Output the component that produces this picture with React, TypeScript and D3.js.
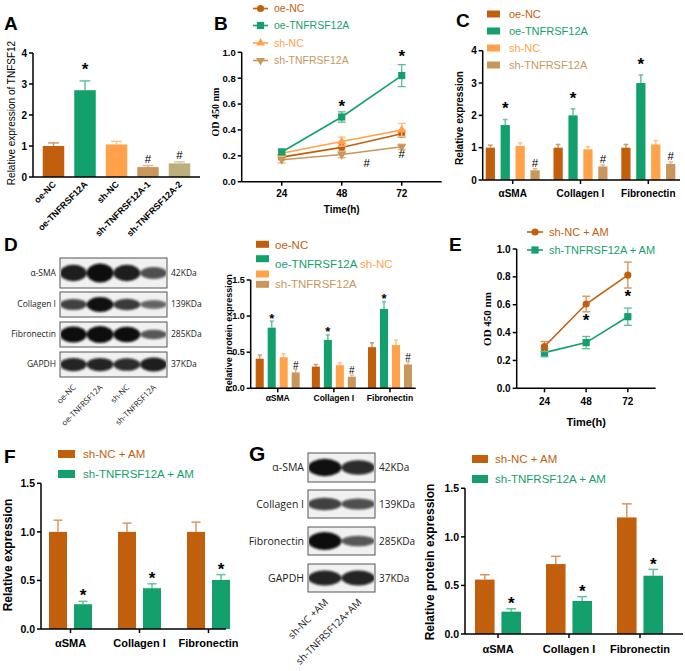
import React from 'react';
import * as d3 from 'd3';

const FONT = "'Liberation Sans', Arial, sans-serif";
const SERIF = "'Liberation Serif', 'Times New Roman', serif";
const BLOT = "'Open Sans', 'Noto Sans', sans-serif";

const BROWN = '#C25F0D';
const GREEN = '#14A06C';
const ORANGE = '#FFA249';
const TAN = '#C9975B';
const KHAKI = '#BDAF7D';

// ---------- Panel A ----------
const aCategories = ['oe-NC', 'oe-TNFRSF12A', 'sh-NC', 'sh-TNFRSF12A-1', 'sh-TNFRSF12A-2'];
const aValues = [1.0, 2.8, 1.05, 0.32, 0.44];
const aErrors = [0.1, 0.3, 0.1, 0.05, 0.05];
const aMarks = ['', '*', '', '#', '#'];
const aColors = [BROWN, GREEN, ORANGE, TAN, KHAKI];
const aTicks = [0, 1, 2, 3, 4];

// ---------- Panel B ----------
const timePoints = [24, 48, 72];
const bNames = ['oe-NC', 'oe-TNFRSF12A', 'sh-NC', 'sh-TNFRSF12A'];
const bOeNC = [0.19, 0.265, 0.37];
const bOeNCErr = [0.02, 0.03, 0.025];
const bOeTNF = [0.23, 0.5, 0.82];
const bOeTNFErr = [0.02, 0.04, 0.085];
const bShNC = [0.22, 0.31, 0.4];
const bShNCErr = [0.02, 0.035, 0.05];
const bShTNF = [0.17, 0.21, 0.27];
const bShTNFErr = [0.025, 0.025, 0.02];
const bMarkTimes = [48, 72, 72, 58];
const bMarkValues = [0.54, 0.925, 0.18, 0.11];
const bMarkSymbols = ['*', '*', '#', '#'];
const odTicks = [0, 0.2, 0.4, 0.6, 0.8, 1.0];

// ---------- Panel C ----------
const proteins = ['αSMA', 'Collagen I', 'Fibronectin'];
const cOeNC = [1.0, 1.0, 1.0];
const cOeNCErr = [0.08, 0.1, 0.1];
const cOeTNF = [1.7, 2.0, 3.0];
const cOeTNFErr = [0.17, 0.2, 0.25];
const cShNC = [1.05, 0.95, 1.1];
const cShNCErr = [0.1, 0.08, 0.12];
const cShTNF = [0.3, 0.42, 0.5];
const cShTNFErr = [0.05, 0.05, 0.06];
const cTicks = [0, 1, 2, 3, 4];

// ---------- Panel D ----------
const dOeNC = [0.41, 0.3, 0.57];
const dOeNCErr = [0.05, 0.03, 0.06];
const dOeTNF = [0.84, 0.67, 1.1];
const dOeTNFErr = [0.09, 0.07, 0.1];
const dShNC = [0.43, 0.32, 0.6];
const dShNCErr = [0.05, 0.035, 0.07];
const dShTNF = [0.22, 0.16, 0.33];
const dShTNFErr = [0.04, 0.02, 0.04];
const dTicks = [0, 0.5, 1.0, 1.5];
const dLanes = ['oe-NC', 'oe-TNFRSF12A', 'sh-NC', 'sh-TNFRSF12A'];
const blotProteins = ['α-SMA', 'Collagen I', 'Fibronectin', 'GAPDH'];
const blotKDa = ['42KDa', '139KDa', '285KDa', '37KDa'];
const dBandSMA = [0.8, 1.0, 0.8, 0.45];
const dBandCol = [0.55, 0.9, 0.6, 0.3];
const dBandFib = [1.0, 1.1, 0.95, 0.4];
const dBandGAPDH = [0.75, 0.75, 0.7, 0.8];

// ---------- Panel E ----------
const eNames = ['sh-NC + AM', 'sh-TNFRSF12A + AM'];
const eShNC = [0.3, 0.605, 0.813];
const eShNCErr = [0.036, 0.056, 0.093];
const eShTNF = [0.256, 0.328, 0.514];
const eShTNFErr = [0.03, 0.044, 0.062];
const eMarkTimes = [48, 72];
const eMarkValues = [0.45, 0.62];

// ---------- Panel F ----------
const fShNC = [1.0, 1.0, 1.0];
const fShNCErr = [0.12, 0.09, 0.1];
const fShTNF = [0.255, 0.42, 0.505];
const fShTNFErr = [0.03, 0.045, 0.055];
const fgTicks = [0, 0.5, 1.0, 1.5];

// ---------- Panel G ----------
const gShNC = [0.56, 0.72, 1.2];
const gShNCErr = [0.05, 0.08, 0.14];
const gShTNF = [0.23, 0.34, 0.6];
const gShTNFErr = [0.03, 0.045, 0.065];
const gLanes = ['sh-NC +AM', 'sh-TNFRSF12A+AM'];
const gBandSMA = [0.9, 0.7];
const gBandCol = [0.55, 0.45];
const gBandFib = [1.0, 0.4];
const gBandGAPDH = [0.75, 0.75];

const light = (c: string, t = 0.4) => d3.interpolateRgb(c, '#ffffff')(t);
const fmt1 = d3.format('.1f');
const fmtD = d3.format('d');

function PanelLabel({ x, y, t, fs = 19 }: any) {
  return (
    <text x={x} y={y} fontSize={fs} fontWeight="bold" fontFamily={FONT}>
      {t}
    </text>
  );
}

function YAxis({ x, y, ticks, fmt, fs = 10, bold = true }: any) {
  const dom = y.domain();
  return (
    <g>
      <line x1={x} x2={x} y1={y(dom[1])} y2={y(dom[0])} stroke="#000" strokeWidth={1.5} />
      {ticks.map((t: number) => (
        <g key={t}>
          <line x1={x - 4} x2={x} y1={y(t)} y2={y(t)} stroke="#000" strokeWidth={1.5} />
          <text
            x={x - 6}
            y={y(t)}
            dy="0.35em"
            textAnchor="end"
            fontSize={fs}
            fontWeight={bold ? 'bold' : 'normal'}
            fontFamily={FONT}
          >
            {fmt(t)}
          </text>
        </g>
      ))}
    </g>
  );
}

function YLabel({ x, y, text, fs, bold = true, family = FONT }: any) {
  return (
    <text
      transform={`translate(${x},${y}) rotate(-90)`}
      textAnchor="middle"
      fontSize={fs}
      fontWeight={bold ? 'bold' : 'normal'}
      fontFamily={family}
    >
      {text}
    </text>
  );
}

function Bar({ x, w, y, v, e, color, mark, starGap, hashGap, starFs = 17, hashFs = 11.5 }: any) {
  const cx = x + w / 2;
  const top = y(v + e);
  const cap = w * 0.5;
  const ec = light(color, 0.35);
  let markEl = null;
  if (mark === '*') {
    markEl = (
      <text x={cx} y={top - starGap + 0.42 * starFs} textAnchor="middle" fontSize={starFs} fontWeight="bold" fontFamily={FONT}>
        *
      </text>
    );
  } else if (mark === '#') {
    markEl = (
      <text x={cx} y={top - hashGap} textAnchor="middle" fontSize={hashFs} fontFamily={FONT}>
        #
      </text>
    );
  }
  return (
    <g>
      <line x1={cx} x2={cx} y1={y(v)} y2={top} stroke={ec} strokeWidth={1.5} />
      <line x1={cx - cap / 2} x2={cx + cap / 2} y1={top} y2={top} stroke={ec} strokeWidth={1.5} />
      <rect x={x} y={y(v)} width={w} height={y(0) - y(v)} fill={color} />
      {markEl}
    </g>
  );
}

function GroupedBars({ gx, inner, y, series, starGap, hashGap, starFs, hashFs }: any) {
  return (
    <g>
      {series.map((s: any) =>
        s.values.map((v: number, i: number) => (
          <Bar
            key={s.name + i}
            x={(gx(proteins[i]) as number) + (inner(s.name) as number)}
            w={inner.bandwidth()}
            y={y}
            v={v}
            e={s.errs[i]}
            color={s.color}
            mark={s.marks ? s.marks[i] : ''}
            starGap={starGap}
            hashGap={hashGap}
            starFs={starFs}
            hashFs={hashFs}
          />
        ))
      )}
    </g>
  );
}

function XAxisCats({ x0, x1, y0, gx, fs, labelY }: any) {
  return (
    <g>
      <line x1={x0} x2={x1} y1={y0} y2={y0} stroke="#000" strokeWidth={1.5} />
      {proteins.map((p) => (
        <g key={p}>
          <line x1={gx(p)} x2={gx(p)} y1={y0} y2={y0 + 4} stroke="#000" strokeWidth={1.5} />
          <text x={gx(p)} y={labelY} textAnchor="middle" fontSize={fs} fontWeight="bold" fontFamily={FONT}>
            {p}
          </text>
        </g>
      ))}
    </g>
  );
}

function RectLegend({ x, w, h, rows, textX, fs }: any) {
  return (
    <g>
      {rows.map((r: any, i: number) => (
        <g key={i}>
          <rect x={x} y={r.cy - h / 2} width={w} height={h} fill={r.color} />
          {r.text ? (
            <text x={textX} y={r.cy} dy="0.36em" fontSize={fs} fontFamily={FONT} fill={r.color}>
              {r.text}
            </text>
          ) : null}
        </g>
      ))}
    </g>
  );
}

const symbolPath = (type: any, size: number) => d3.symbol().type(type).size(size)() as string;

function Marker({ x, y, kind, color }: any) {
  if (kind === 'circle') return <circle cx={x} cy={y} r={3.6} fill={color} />;
  if (kind === 'square') return <rect x={x - 3.6} y={y - 3.6} width={7.2} height={7.2} fill={color} />;
  if (kind === 'up') return <path d={symbolPath(d3.symbolTriangle, 34)} transform={`translate(${x},${y})`} fill={color} />;
  return <path d={symbolPath(d3.symbolTriangle, 34)} transform={`translate(${x},${y}) rotate(180)`} fill={color} />;
}

function LineSeries({ x, y, vals, errs, color, kind }: any) {
  const line = d3
    .line<number>()
    .x((_, i) => x(timePoints[i]))
    .y((d) => y(d));
  const ec = light(color, 0.3);
  return (
    <g>
      {vals.map((v: number, i: number) => {
        const cx = x(timePoints[i]);
        return (
          <g key={i}>
            <line x1={cx} x2={cx} y1={y(v - errs[i])} y2={y(v + errs[i])} stroke={ec} strokeWidth={1.3} />
            <line x1={cx - 4} x2={cx + 4} y1={y(v - errs[i])} y2={y(v - errs[i])} stroke={ec} strokeWidth={1.3} />
            <line x1={cx - 4} x2={cx + 4} y1={y(v + errs[i])} y2={y(v + errs[i])} stroke={ec} strokeWidth={1.3} />
          </g>
        );
      })}
      <path d={line(vals) as string} fill="none" stroke={color} strokeWidth={1.6} />
      {vals.map((v: number, i: number) => (
        <Marker key={'m' + i} x={x(timePoints[i])} y={y(v)} kind={kind} color={color} />
      ))}
    </g>
  );
}

function TimeAxis({ x, y0, labelY, titleY, fs, titleFs }: any) {
  const [d0, d1] = x.domain();
  return (
    <g>
      <line x1={x(d0)} x2={x(d1)} y1={y0} y2={y0} stroke="#000" strokeWidth={1.5} />
      {timePoints.map((t) => (
        <g key={t}>
          <line x1={x(t)} x2={x(t)} y1={y0} y2={y0 + 4} stroke="#000" strokeWidth={1.5} />
          <text x={x(t)} y={labelY} textAnchor="middle" fontSize={fs} fontWeight="bold" fontFamily={FONT}>
            {t}
          </text>
        </g>
      ))}
      <text x={x(48)} y={titleY} textAnchor="middle" fontSize={titleFs} fontWeight="bold" fontFamily={FONT}>
        Time(h)
      </text>
    </g>
  );
}

function LineLegend({ x0, x1, textX, rows, fs }: any) {
  return (
    <g>
      {rows.map((r: any, i: number) => (
        <g key={i}>
          <line x1={x0} x2={x1} y1={r.cy} y2={r.cy} stroke={r.color} strokeWidth={1.6} />
          <Marker x={(x0 + x1) / 2} y={r.cy} kind={r.kind} color={r.color} />
          <text x={textX} y={r.cy} dy="0.36em" fontSize={fs} fontFamily={FONT} fill={r.color}>
            {r.text}
          </text>
        </g>
      ))}
    </g>
  );
}

function Blot({ x0, x1, rows, lanes, bands, labelFs, kdaFs, laneFs, laneY, laneDx }: any) {
  const lx = d3
    .scaleBand()
    .domain(lanes)
    .range([x0, x1])
    .paddingInner(0.04)
    .paddingOuter(0.02);
  return (
    <g>
      {rows.map((r: any, ri: number) => {
        const cy = (r[0] + r[1]) / 2;
        const h = r[1] - r[0];
        return (
          <g key={ri}>
            <rect x={x0} y={r[0]} width={x1 - x0} height={h} fill="#f1f1f1" stroke="#555" strokeWidth={1} />
            <clipPath id={`clip-${x0}-${ri}`}>
              <rect x={x0 + 1} y={r[0] + 1} width={x1 - x0 - 2} height={h - 2} />
            </clipPath>
            <g clipPath={`url(#clip-${x0}-${ri})`} filter="url(#blur)">
              {bands[ri].map((b: number, li: number) => (
                <ellipse
                  key={li}
                  cx={(lx(lanes[li]) as number) + lx.bandwidth() / 2}
                  cy={cy}
                  rx={lx.bandwidth() * 0.52}
                  ry={h * (0.1 + 0.22 * b)}
                  fill="#0c0c0c"
                  opacity={Math.min(1, 0.45 + 0.6 * b)}
                />
              ))}
            </g>
            <text x={x0 - 4} y={cy} dy="0.35em" textAnchor="end" fontSize={labelFs} fontFamily={BLOT} fill="#222">
              {blotProteins[ri]}
            </text>
            <text x={x1 + 4} y={cy} dy="0.35em" fontSize={kdaFs} fontFamily={BLOT} fill="#222">
              {blotKDa[ri]}
            </text>
          </g>
        );
      })}
      {lanes.map((l: string) => (
        <text
          key={l}
          transform={`translate(${(lx(l) as number) + lx.bandwidth() / 2 + laneDx},${laneY}) rotate(-45)`}
          textAnchor="end"
          fontSize={laneFs}
          fontFamily={BLOT}
          fill="#222"
        >
          {l}
        </text>
      ))}
    </g>
  );
}

function PanelA() {
  const y = d3.scaleLinear().domain([0, 4]).range([177, 53]);
  const x = d3.scalePoint().domain(aCategories).range([53.5, 179.5]);
  const bw = 21.5;
  return (
    <g>
      <PanelLabel x={4} y={30} t="A" />
      {aCategories.map((c, i) => (
        <Bar
          key={c}
          x={(x(c) as number) - bw / 2}
          w={bw}
          y={y}
          v={aValues[i]}
          e={aErrors[i]}
          color={aColors[i]}
          mark={aMarks[i]}
          starGap={13}
          hashGap={2.5}
        />
      ))}
      <YAxis x={33} y={y} ticks={aTicks} fmt={fmtD} fs={10} />
      <line x1={33} x2={200} y1={177} y2={177} stroke="#000" strokeWidth={1.5} />
      {aCategories.map((c) => (
        <text
          key={c}
          transform={`translate(${(x(c) as number) + 3},${185}) rotate(-45)`}
          textAnchor="end"
          fontSize={9}
          fontWeight="bold"
          fontFamily={FONT}
        >
          {c}
        </text>
      ))}
      <YLabel x={15} y={113} text="Relative expression of TNFSF12" fs={10} bold={false} />
    </g>
  );
}

function PanelB() {
  const y = d3.scaleLinear().domain([0, 1]).range([181.7, 52.3]);
  const x = d3.scaleLinear().domain([8, 88]).range([241.7, 441.7]);
  const series = [
    { vals: bOeNC, errs: bOeNCErr, color: BROWN, kind: 'circle' },
    { vals: bShTNF, errs: bShTNFErr, color: TAN, kind: 'down' },
    { vals: bShNC, errs: bShNCErr, color: ORANGE, kind: 'up' },
    { vals: bOeTNF, errs: bOeTNFErr, color: GREEN, kind: 'square' },
  ];
  return (
    <g>
      <PanelLabel x={214} y={30} t="B" />
      {series.map((s, i) => (
        <LineSeries key={i} x={x} y={y} {...s} />
      ))}
      {bMarkSymbols.map((s, i) => (
        <text
          key={i}
          x={x(bMarkTimes[i])}
          y={y(bMarkValues[i])}
          textAnchor="middle"
          fontSize={s === '*' ? 17 : 11.5}
          fontWeight={s === '*' ? 'bold' : 'normal'}
          fontFamily={FONT}
        >
          {s}
        </text>
      ))}
      <YAxis x={241.7} y={y} ticks={odTicks} fmt={fmt1} fs={9.5} />
      <TimeAxis x={x} y0={181.7} labelY={197} titleY={213} fs={10} titleFs={10} />
      <YLabel x={219} y={112} text="OD 450 nm" fs={10} family={SERIF} />
      <LineLegend
        x0={253}
        x1={268}
        textX={274}
        fs={10.5}
        rows={[
          { cy: 8.5, color: BROWN, kind: 'circle', text: bNames[0] },
          { cy: 25.5, color: GREEN, kind: 'square', text: bNames[1] },
          { cy: 43, color: ORANGE, kind: 'up', text: bNames[2] },
          { cy: 60.5, color: TAN, kind: 'down', text: bNames[3] },
        ]}
      />
    </g>
  );
}

function PanelC() {
  const y = d3.scaleLinear().domain([0, 4]).range([180, 50.7]);
  const gx = d3.scalePoint().domain(proteins).range([512.7, 648.3]);
  const inner = d3.scaleBand().domain(bNames).range([-27, 27]).paddingInner(0.38);
  const series = [
    { name: bNames[0], values: cOeNC, errs: cOeNCErr, color: BROWN },
    { name: bNames[1], values: cOeTNF, errs: cOeTNFErr, color: GREEN, marks: ['*', '*', '*'] },
    { name: bNames[2], values: cShNC, errs: cShNCErr, color: ORANGE },
    { name: bNames[3], values: cShTNF, errs: cShTNFErr, color: TAN, marks: ['#', '#', '#'] },
  ];
  return (
    <g>
      <PanelLabel x={456} y={27} t="C" />
      <GroupedBars gx={gx} inner={inner} y={y} series={series} starGap={12.5} hashGap={1.7} />
      <YAxis x={482.7} y={y} ticks={cTicks} fmt={fmtD} fs={10} />
      <XAxisCats x0={482.7} x1={680} y0={180} gx={gx} fs={10} labelY={197} />
      <YLabel x={463} y={118} text="Relative expression" fs={10} />
      <RectLegend
        x={487}
        w={13}
        h={7}
        textX={509}
        fs={11}
        rows={[
          { cy: 14, color: BROWN, text: bNames[0] },
          { cy: 31, color: GREEN, text: bNames[1] },
          { cy: 48, color: ORANGE, text: bNames[2] },
          { cy: 65, color: TAN, text: bNames[3] },
        ]}
      />
    </g>
  );
}

function PanelD() {
  const y = d3.scaleLinear().domain([0, 1.5]).range([388.3, 280]);
  const gx = d3.scalePoint().domain(proteins).range([277.7, 390]);
  const inner = d3.scaleBand().domain(bNames).range([-22, 22]).paddingInner(0.33);
  const series = [
    { name: bNames[0], values: dOeNC, errs: dOeNCErr, color: BROWN },
    { name: bNames[1], values: dOeTNF, errs: dOeTNFErr, color: GREEN, marks: ['*', '*', '*'] },
    { name: bNames[2], values: dShNC, errs: dShNCErr, color: ORANGE },
    { name: bNames[3], values: dShTNF, errs: dShTNFErr, color: TAN, marks: ['#', '#', '#'] },
  ];
  return (
    <g>
      <PanelLabel x={4} y={251} t="D" />
      <Blot
        x0={60}
        x1={167}
        rows={[
          [258, 288],
          [292, 317],
          [322, 347],
          [352, 377],
        ]}
        lanes={dLanes}
        bands={[dBandSMA, dBandCol, dBandFib, dBandGAPDH]}
        labelFs={8.5}
        kdaFs={8.5}
        laneFs={8}
        laneY={388}
        laneDx={3}
      />
      <GroupedBars gx={gx} inner={inner} y={y} series={series} starGap={4} hashGap={1} starFs={13} hashFs={10} />
      <YAxis x={250.7} y={y} ticks={dTicks} fmt={fmt1} fs={9} />
      <XAxisCats x0={250.7} x1={415.7} y0={388.3} gx={gx} fs={8.5} labelY={401} />
      <YLabel x={232} y={333} text="Relative protein expression" fs={9} />
      <RectLegend
        x={256}
        w={13}
        h={7}
        textX={275}
        fs={11.5}
        rows={[
          { cy: 244.3, color: BROWN },
          { cy: 258.7, color: GREEN },
          { cy: 274, color: ORANGE },
          { cy: 284.3, color: TAN },
        ]}
      />
      <text x={275} y={249} fontSize={11.5} fontFamily={FONT} fill={BROWN}>
        {bNames[0]}
      </text>
      <text x={275} y={268} fontSize={11.5} fontFamily={FONT}>
        <tspan fill={GREEN}>{bNames[1]}</tspan>
        <tspan fill={ORANGE}> {bNames[2]}</tspan>
      </text>
      <text x={275} y={288} fontSize={11.5} fontFamily={FONT} fill={TAN}>
        {bNames[3]}
      </text>
    </g>
  );
}

function PanelE() {
  const y = d3.scaleLinear().domain([0, 1]).range([388.3, 249]);
  const x = d3.scaleLinear().domain([8, 88]).range([516.7, 655.6]);
  return (
    <g>
      <PanelLabel x={449} y={251} t="E" />
      <LineSeries x={x} y={y} vals={eShTNF} errs={eShTNFErr} color={GREEN} kind="square" />
      <LineSeries x={x} y={y} vals={eShNC} errs={eShNCErr} color={BROWN} kind="circle" />
      {eMarkTimes.map((t, i) => (
        <text key={i} x={x(t)} y={y(eMarkValues[i])} textAnchor="middle" fontSize={17} fontWeight="bold" fontFamily={FONT}>
          *
        </text>
      ))}
      <YAxis x={516.7} y={y} ticks={odTicks} fmt={fmt1} fs={10} />
      <TimeAxis x={x} y0={388.3} labelY={405} titleY={426} fs={10} titleFs={11} />
      <YLabel x={491} y={319} text="OD 450 nm" fs={11} family={SERIF} />
      <LineLegend
        x0={527}
        x1={543}
        textX={549}
        fs={11}
        rows={[
          { cy: 232, color: BROWN, kind: 'circle', text: eNames[0] },
          { cy: 250, color: GREEN, kind: 'square', text: eNames[1] },
        ]}
      />
    </g>
  );
}

function PanelF() {
  const y = d3.scaleLinear().domain([0, 1.5]).range([629, 483.3]);
  const gx = d3.scalePoint().domain(proteins).range([70.5, 208.5]);
  const inner = d3.scaleBand().domain(eNames).range([-21.5, 21.5]).paddingInner(0.28);
  const series = [
    { name: eNames[0], values: fShNC, errs: fShNCErr, color: BROWN },
    { name: eNames[1], values: fShTNF, errs: fShTNFErr, color: GREEN, marks: ['*', '*', '*'] },
  ];
  return (
    <g>
      <PanelLabel x={4} y={463} t="F" />
      <GroupedBars gx={gx} inner={inner} y={y} series={series} starGap={7} hashGap={1} />
      <YAxis x={41} y={y} ticks={fgTicks} fmt={fmt1} fs={10.5} />
      <XAxisCats x0={41} x1={226} y0={629} gx={gx} fs={11} labelY={647} />
      <YLabel x={12} y={555} text="Relative expression" fs={12} />
      <RectLegend
        x={58}
        w={17}
        h={8}
        textX={83}
        fs={11.5}
        rows={[
          { cy: 454, color: BROWN, text: eNames[0] },
          { cy: 474, color: GREEN, text: eNames[1] },
        ]}
      />
    </g>
  );
}

function PanelG() {
  const y = d3.scaleLinear().domain([0, 1.5]).range([634, 488.3]);
  const gx = d3.scalePoint().domain(proteins).range([498, 640]);
  const inner = d3.scaleBand().domain(eNames).range([-23, 23]).paddingInner(0.26);
  const series = [
    { name: eNames[0], values: gShNC, errs: gShNCErr, color: BROWN },
    { name: eNames[1], values: gShTNF, errs: gShTNFErr, color: GREEN, marks: ['*', '*', '*'] },
  ];
  return (
    <g>
      <PanelLabel x={249} y={461} t="G" fs={21} />
      <Blot
        x0={308}
        x1={375}
        rows={[
          [453, 482],
          [490, 518],
          [527, 555],
          [564, 592],
        ]}
        lanes={gLanes}
        bands={[gBandSMA, gBandCol, gBandFib, gBandGAPDH]}
        labelFs={10.5}
        kdaFs={10}
        laneFs={10}
        laneY={603}
        laneDx={4}
      />
      <GroupedBars gx={gx} inner={inner} y={y} series={series} starGap={7} hashGap={1} />
      <YAxis x={465} y={y} ticks={fgTicks} fmt={fmt1} fs={10.5} />
      <XAxisCats x0={465} x1={683} y0={634} gx={gx} fs={11} labelY={653} />
      <YLabel x={434} y={562} text="Relative protein expression" fs={12} />
      <RectLegend
        x={472}
        w={16}
        h={8}
        textX={495}
        fs={11.5}
        rows={[
          { cy: 459, color: BROWN, text: eNames[0] },
          { cy: 479, color: GREEN, text: eNames[1] },
        ]}
      />
    </g>
  );
}

export default function App() {
  return (
    <svg
      width={685}
      height={671}
      viewBox="0 0 685 671"
      style={{ position: 'absolute', left: 0, top: 0, background: '#fff' }}
    >
      <defs>
        <filter id="blur" x="-20%" y="-50%" width="140%" height="200%">
          <feGaussianBlur stdDeviation="1.3" />
        </filter>
      </defs>
      <rect x={0} y={0} width={685} height={671} fill="#fff" />
      <PanelA />
      <PanelB />
      <PanelC />
      <PanelD />
      <PanelE />
      <PanelF />
      <PanelG />
    </svg>
  );
}
